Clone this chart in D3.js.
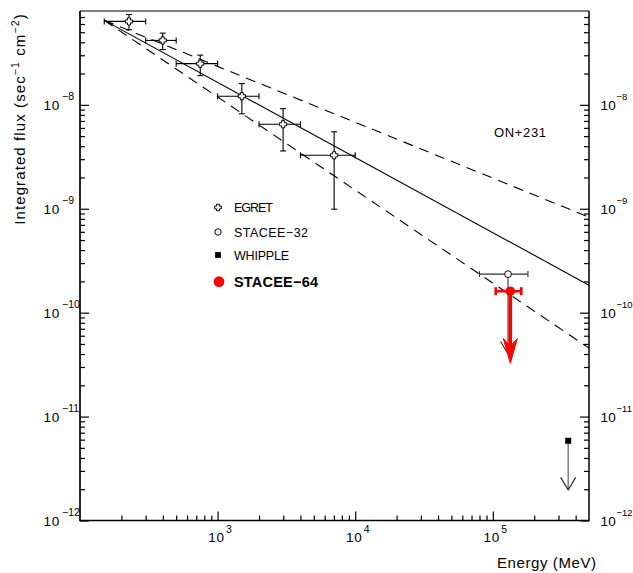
<!DOCTYPE html>
<html><head><meta charset="utf-8">
<script src="https://cdn.jsdelivr.net/npm/d3@7"></script>
<style>
body{margin:0;background:#fff}
svg{display:block}
text{font-family:"Liberation Sans",Arial,Helvetica,sans-serif;fill:#000}
</style>
</head><body>
<svg id="c" width="633" height="573"></svg>
<script>
// ---------------- data ----------------
const egretE   = [227, 399, 748, 1500, 2992, 7030];
const egretElo = [150, 300, 500, 1000, 2000, 4000];
const egretEhi = [300, 500, 1000, 2000, 4000, 10000];
const egretF   = [6.35e-8, 4.17e-8, 2.49e-8, 1.21e-8, 6.5e-9, 3.27e-9];
const egretFlo = [5.28e-8, 3.4e-8, 1.91e-8, 8.2e-9, 3.6e-9, 9.9e-10];
const egretFhi = [7.4e-8, 4.9e-8, 3.01e-8, 1.6e-8, 9.2e-9, 5.5e-9];

const stacee32 = {E: 1.29e5, Elo: 8.0e4, Ehi: 1.8e5, F: 2.35e-10, limitTo: 4.0e-11};
const stacee64 = {E: 1.34e5, Elo: 1.05e5, Ehi: 1.61e5, F: 1.61e-10, limitTo: 3.25e-11};
const whipple  = {E: 3.53e5, F: 5.85e-12, limitTo: 1.97e-12};

const fitE      = [150, 5e5];
const fitSolid  = [6.5e-8, 1.84e-10];
const fitUpper  = [6.5e-8, 8.3e-10];
const fitLower  = [6.5e-8, 4.56e-11];

const xDomain = [100, 5e5];
const yDomain = [1e-12, 8e-8];
const xMajor = [1e3, 1e4, 1e5];
const xMajorExp = ["3", "4", "5"];
const yMajor = [1e-12, 1e-11, 1e-10, 1e-9, 1e-8];
const yMajorExp = ["\u221212", "\u221211", "\u221210", "\u22129", "\u22128"];

const legendLabels = ["EGRET", "STACEE\u221232", "WHIPPLE", "STACEE\u221264"];
const sourceName = "ON+231";
const xTitle = "Energy (MeV)";

// ---------------- layout ----------------
const L = 80, R = 589, T = 11, B = 520.5;
const x = d3.scaleLog().domain(xDomain).range([L, R]);
const y = d3.scaleLog().domain(yDomain).range([B, T]);
const svg = d3.select("#c");

const isMajor = v => Math.abs(Math.log10(v) - Math.round(Math.log10(v))) < 1e-9;
const xMinor = x.ticks().filter(v => !isMajor(v) && v > xDomain[0] && v < xDomain[1]);
const yMinor = y.ticks().filter(v => !isMajor(v) && v > yDomain[0] && v < yDomain[1]);

function styleAxis(g){ g.select(".domain").remove(); g.selectAll("line").attr("stroke","#000").attr("stroke-width",1.2); }

// bottom
svg.append("g").attr("transform",`translate(0,${B})`)
  .call(d3.axisBottom(x).tickValues(xMinor).tickSize(-5).tickFormat("")).call(styleAxis);
svg.append("g").attr("transform",`translate(0,${B})`)
  .call(d3.axisBottom(x).tickValues(xMajor).tickSize(-9).tickFormat("")).call(styleAxis);
// left
svg.append("g").attr("transform",`translate(${L},0)`)
  .call(d3.axisLeft(y).tickValues(yMinor).tickSize(-5).tickFormat("")).call(styleAxis);
svg.append("g").attr("transform",`translate(${L},0)`)
  .call(d3.axisLeft(y).tickValues(yMajor).tickSize(-9).tickFormat("")).call(styleAxis);
// right
svg.append("g").attr("transform",`translate(${R},0)`)
  .call(d3.axisRight(y).tickValues(yMinor).tickSize(-5).tickFormat("")).call(styleAxis);
svg.append("g").attr("transform",`translate(${R},0)`)
  .call(d3.axisRight(y).tickValues(yMajor).tickSize(-9).tickFormat("")).call(styleAxis);

// frame
svg.append("line").attr("x1",L).attr("x2",R).attr("y1",T).attr("y2",T).attr("stroke","#000").attr("stroke-width",1.2);
svg.append("line").attr("x1",R).attr("x2",R).attr("y1",T).attr("y2",B).attr("stroke","#000").attr("stroke-width",1.5);
svg.append("line").attr("x1",L).attr("x2",L).attr("y1",T).attr("y2",B+0.8).attr("stroke","#000").attr("stroke-width",1.7);
svg.append("line").attr("x1",L).attr("x2",R+0.7).attr("y1",B).attr("y2",B).attr("stroke","#000").attr("stroke-width",1.7);

// tick labels
yMajor.forEach((v,i)=>{
  const yy = y(v);
  svg.append("text").attr("x",60).attr("y",yy+5).attr("text-anchor","end")
    .attr("font-size",13.5).attr("letter-spacing",0.8).text("10");
  svg.append("text").attr("x",62).attr("y",yy-5).attr("font-size",10.5).text(yMajorExp[i]);
  svg.append("text").attr("x",600.5).attr("y",yy+5)
    .attr("font-size",13.5).attr("letter-spacing",0.3).text("10");
  svg.append("text").attr("x",616.5).attr("y",yy-5).attr("font-size",9.5).text(yMajorExp[i]);
});
xMajor.forEach((v,i)=>{
  const xx = x(v);
  svg.append("text").attr("x",xx-1).attr("y",541.5).attr("text-anchor","middle")
    .attr("font-size",13.5).attr("letter-spacing",0.8).text("10");
  svg.append("text").attr("x",xx+8.5).attr("y",532.5).attr("font-size",10.5).text(xMajorExp[i]);
});

// axis titles
svg.append("text").attr("x",497).attr("y",568).attr("font-size",15)
  .attr("textLength",99).text(xTitle);
const yt = svg.append("text").attr("transform","translate(25,119) rotate(-90)")
  .attr("text-anchor","middle").attr("font-size",15).attr("letter-spacing",1.1);
yt.append("tspan").text("Integrated flux (sec");
yt.append("tspan").attr("dy",-6).attr("font-size",10.5).text("\u22121");
yt.append("tspan").attr("dy",6).text(" cm");
yt.append("tspan").attr("dy",-6).attr("font-size",10.5).text("\u22122");
yt.append("tspan").attr("dy",6).text(")");

// source label
svg.append("text").attr("x",494).attr("y",136.5).attr("font-size",13).attr("textLength",52).text(sourceName);

// fit lines
const line = d3.line().x(d=>x(d[0])).y(d=>y(d[1]));
const fitPts = arr => fitE.map((e,i)=>[e, arr[i]]);
svg.append("path").attr("d",line(fitPts(fitSolid))).attr("fill","none").attr("stroke","#000").attr("stroke-width",1.1);
svg.append("path").attr("d",line(fitPts(fitUpper))).attr("fill","none").attr("stroke","#000").attr("stroke-width",1.1).attr("stroke-dasharray","10,7");
svg.append("path").attr("d",line(fitPts(fitLower))).attr("fill","none").attr("stroke","#000").attr("stroke-width",1.1).attr("stroke-dasharray","10,7");

// helpers
const crossPath = (cx,cy,s=3.6,w=1.5)=>`M${cx-w},${cy-s}H${cx+w}V${cy-w}H${cx+s}V${cy+w}H${cx+w}V${cy+s}H${cx-w}V${cy+w}H${cx-s}V${cy-w}H${cx-w}Z`;
function errBar(g, x1,y1,x2,y2, cap, vertical, color, sw){
  g.append("line").attr("x1",x1).attr("y1",y1).attr("x2",x2).attr("y2",y2).attr("stroke",color).attr("stroke-width",sw);
  [[x1,y1],[x2,y2]].forEach(([a,b])=>{
    if(vertical) g.append("line").attr("x1",a-cap).attr("x2",a+cap).attr("y1",b).attr("y2",b).attr("stroke",color).attr("stroke-width",sw);
    else g.append("line").attr("x1",a).attr("x2",a).attr("y1",b-cap).attr("y2",b+cap).attr("stroke",color).attr("stroke-width",sw);
  });
}
function vArrow(g, cx, y1, y2, color, sw){
  g.append("line").attr("x1",cx).attr("x2",cx).attr("y1",y1).attr("y2",y2).attr("stroke",color).attr("stroke-width",sw);
  g.append("path").attr("d",`M${cx-7.5},${y2-12.5}L${cx},${y2}L${cx+7.5},${y2-12.5}`)
    .attr("fill","none").attr("stroke","#222").attr("stroke-width",1.1);
}

// EGRET
const gE = svg.append("g");
egretE.forEach((e,i)=>{
  const cx = x(e), cy = y(egretF[i]);
  errBar(gE, x(egretElo[i]), cy, x(egretEhi[i]), cy, 3, false, "#000", 1.1);
  errBar(gE, cx, y(egretFhi[i]), cx, y(egretFlo[i]), 3, true, "#000", 1.1);
  gE.append("path").attr("d",crossPath(cx,cy)).attr("fill","#fff").attr("stroke","#000").attr("stroke-width",1);
});

// STACEE-32
const gS = svg.append("g");
{
  const cx = x(stacee32.E), cy = y(stacee32.F);
  vArrow(gS, cx, cy, y(stacee32.limitTo), "#777", 1.6);
  errBar(gS, x(stacee32.Elo), cy, x(stacee32.Ehi), cy, 3, false, "#333", 1.1);
  gS.append("circle").attr("cx",cx).attr("cy",cy).attr("r",3.4).attr("fill","#fff").attr("stroke","#000").attr("stroke-width",1);
}

// WHIPPLE
const gW = svg.append("g");
{
  const cx = x(whipple.E), cy = y(whipple.F);
  vArrow(gW, cx, cy, y(whipple.limitTo), "#777", 1.4);
  gW.append("rect").attr("x",cx-3).attr("y",cy-3).attr("width",6).attr("height",6).attr("fill","#000");
}

// STACEE-64
const gR = svg.append("g");
{
  const red = "#ff0000";
  const cx = x(stacee64.E), cy = y(stacee64.F), ty = y(stacee64.limitTo);
  gR.append("line").attr("x1",cx).attr("x2",cx).attr("y1",cy).attr("y2",ty-14).attr("stroke",red).attr("stroke-width",3.6);
  gR.append("path").attr("d",`M${cx},${ty}L${cx-7},${ty-25}L${cx},${ty-17}L${cx+7},${ty-25}Z`).attr("fill",red).attr("stroke",red).attr("stroke-width",1);
  errBar(gR, x(stacee64.Elo), cy, x(stacee64.Ehi), cy, 4, false, red, 2.6);
  gR.append("circle").attr("cx",cx).attr("cy",cy).attr("r",4.8).attr("fill",red);
}

// legend
const lg = svg.append("g");
const lx = 218, ly = [207.5, 232, 255, 281.7];
lg.append("path").attr("d",crossPath(lx,ly[0],3.3,1.4)).attr("fill","#fff").attr("stroke","#000").attr("stroke-width",1);
lg.append("circle").attr("cx",lx).attr("cy",ly[1]).attr("r",3.2).attr("fill","#fff").attr("stroke","#000").attr("stroke-width",1);
lg.append("rect").attr("x",lx-2.9).attr("y",ly[2]-2.9).attr("width",5.8).attr("height",5.8).attr("fill","#000");
lg.append("circle").attr("cx",lx+1).attr("cy",ly[3]).attr("r",5.4).attr("fill","#ff0000");
const lw = [39, 74, 55, 84];
legendLabels.forEach((t,i)=>{
  const bold = i===3;
  lg.append("text").attr("x",234).attr("y",ly[i]+(bold?5.3:4.6))
    .attr("font-size",bold?14.5:12.5).attr("font-weight",bold?"bold":"normal")
    .attr("textLength",lw[i]).text(t);
});
</script>
</body></html>
